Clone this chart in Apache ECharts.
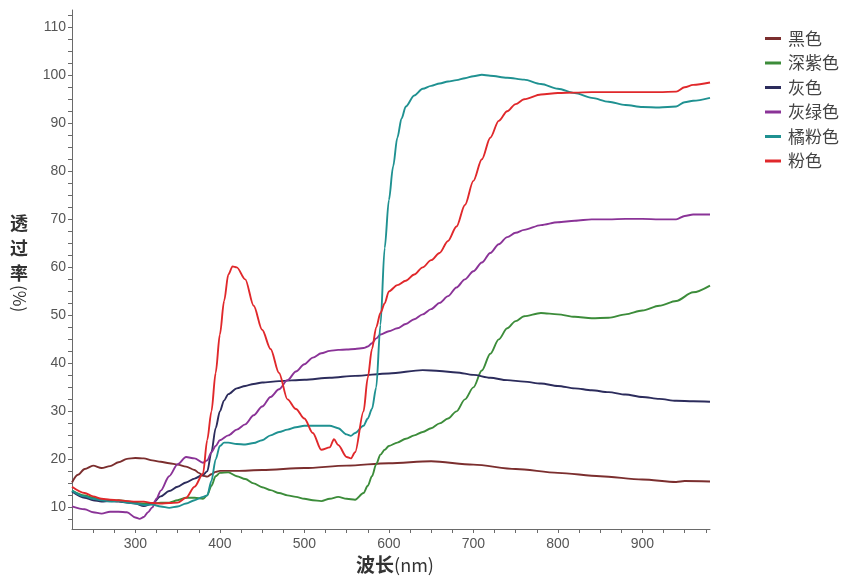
<!DOCTYPE html>
<html><head><meta charset="utf-8">
<script src="https://cdn.jsdelivr.net/npm/echarts@6/dist/echarts.min.js"></script>
<style>html,body{margin:0;padding:0;background:#fff}#c{width:860px;height:576px}</style>
</head><body><div id="c"></div>
<script>
// 黑色
const blackWl = [225,232,240,250,260,270,280,290,300,310,320,330,340,350,360,370,375,380,385,390,395,400,420,450,500,550,600,650,700,750,800,850,900,940,950,980];
const blackT  = [15.2,16.8,18,18.7,18.2,18.6,19.4,20.1,20.3,20.2,19.8,19.5,19.2,18.9,18.5,17.8,17.2,16.6,16.4,16.9,17.4,17.6,17.6,17.8,18.2,18.7,19.2,19.6,18.9,18.0,17.2,16.5,15.8,15.3,15.5,15.4];
// 深紫色
const darkPurpleWl = [225,240,250,260,270,280,290,300,310,320,330,340,350,360,370,380,385,390,395,400,410,420,430,440,450,460,470,480,490,500,510,520,530,540,550,560,570,575,580,585,590,595,600,610,620,630,640,650,660,670,680,690,700,710,720,730,740,750,760,780,800,820,840,860,880,900,920,940,960,980];
const darkPurpleT  = [13.5,12.5,12,11.5,11.3,11.5,11.3,11,10.8,10.8,11,11,11.5,12,12,11.8,12.5,14.5,16.5,17.2,17.3,16.5,15.9,15,14.2,13.6,13,12.5,12.2,11.8,11.5,11.3,11.8,12.2,11.8,11.6,13,14.5,16.5,19,21,22,22.8,23.5,24.3,25,25.7,26.5,27.5,28.5,30,32.5,35,38.5,42,45,47.3,48.8,49.8,50.5,50.2,49.7,49.4,49.5,50.2,51,52,53,54.8,56.2];
// 灰色
const grayWl = [225,240,250,260,270,280,290,300,310,320,330,340,350,360,370,380,385,390,395,400,405,410,420,430,440,450,470,500,530,560,600,640,660,680,700,720,740,760,780,800,820,840,860,880,900,920,940,960,980];
const grayT  = [13.3,12,11.5,11.2,11.3,11.2,11,10.8,10.3,10.8,12.3,13.4,14.3,15.2,16,16.8,17.5,21.5,26.5,30,32.3,33.6,34.8,35.3,35.7,36,36.3,36.6,37,37.4,37.9,38.6,38.4,38.1,37.6,37,36.5,36.2,35.8,35.3,34.8,34.4,34,33.5,33,32.6,32.2,32.1,32];
// 灰绿色
const grayGreenWl = [225,240,250,260,270,280,290,300,305,310,315,320,325,330,340,350,360,370,380,385,390,395,400,410,420,430,440,450,460,470,480,490,500,510,520,530,540,550,560,570,575,580,585,590,600,610,620,630,640,650,660,670,680,690,700,710,720,730,740,750,760,780,800,820,840,860,880,900,920,940,950,960,980];
const grayGreenT  = [10.2,9.6,9,8.7,9.1,9.1,9,7.9,7.6,8,9,10,11.8,13.5,16.5,19,20.5,20.2,19.3,19.8,21.5,22.8,24,25,26.2,27.3,29.2,31,33,34.6,36.5,38.3,39.8,41.2,42.1,42.6,42.8,42.9,43,43.2,43.5,44.2,45.2,46,46.7,47.3,48.2,49.2,50.2,51.3,52.6,54,55.8,57.5,59.2,61,63,64.8,66.3,67.2,67.8,68.8,69.4,69.7,70,70,70.1,70.1,70,70,70.7,71,71];
// 橘粉色
const orangePinkWl = [225,240,250,260,270,280,290,300,310,320,330,340,350,360,370,380,385,390,395,400,405,410,420,430,440,450,460,470,480,490,500,510,520,530,540,550,555,560,570,575,580,585,590,595,600,605,610,615,620,630,640,650,660,670,680,690,700,710,720,740,760,780,800,820,840,860,880,900,920,940,950,960,980];
const orangePinkT  = [13.5,12.3,11.8,11.5,11.2,11.3,11,10.8,10.5,10.6,10.2,9.9,10.2,10.8,11.5,12.2,12.5,15.5,20,22.8,23.5,23.5,23.2,23.1,23.4,24,25,25.7,26.2,26.7,27,27,27,27,26.5,25.2,24.9,25.5,27,28.5,30.5,35,48,64,74,81,87,91,93.5,95.8,97.2,97.8,98.3,98.7,99,99.4,99.8,100.1,99.9,99.5,99.1,98.2,97.2,96.3,95.3,94.5,93.8,93.4,93.3,93.5,94.4,94.7,95.3];
// 粉色
const pinkWl = [225,240,250,260,270,280,290,300,310,320,330,340,350,360,370,380,385,390,395,400,405,410,415,420,430,440,450,460,470,480,490,500,510,520,530,535,540,550,555,560,570,575,580,585,590,595,600,610,620,630,640,650,660,670,680,690,700,710,720,730,740,750,760,780,800,820,840,860,880,900,920,940,950,960,980];
const pinkT  = [14.3,13,12.3,11.8,11.6,11.5,11.3,11.2,11.2,10.9,10.8,10.9,11,12,14.3,17,24,30,38,46,53,58.5,60.2,60,57.5,52,47,43,38,32.5,30.5,28.5,25.5,22,22.5,24.2,23,20.5,20.2,21.5,30,37,43,47.5,50.5,52.5,55,56.3,57.2,58.5,60,61.5,63,65.5,68.5,73,78,82.5,87,90.5,92.5,94,95,96,96.3,96.4,96.5,96.5,96.5,96.5,96.5,96.6,97.5,98,98.5];

const seriesNames = ['黑色','深紫色','灰色','灰绿色','橘粉色','粉色'];
const seriesColors = ['#7b2e2e','#3c8c3a','#2c2c5c','#8a3397','#1f9191','#e0282b'];
const seriesWl = [blackWl, darkPurpleWl, grayWl, grayGreenWl, orangePinkWl, pinkWl];
const seriesT  = [blackT, darkPurpleT, grayT, grayGreenT, orangePinkT, pinkT];

const xLabelValues = [300,400,500,600,700,800,900];
const yLabelValues = [10,20,30,40,50,60,70,80,90,100,110];
const xTickValues = []; for (let v = 250; v <= 975; v += 25) xTickValues.push(v);
const yTickValues = []; for (let v = 7.5; v <= 112.5; v += 2.5) yTickValues.push(v);

const chart = echarts.init(document.getElementById('c'));
const axisColor = '#6a6a6a';
const labelFont = "'Liberation Sans Narrow','Arial Narrow','Liberation Sans',Arial,sans-serif";
chart.setOption({
  animation: false,
  backgroundColor: '#fff',
  grid: { left: 72, right: 150, top: 10, bottom: 47 },
  legend: {
    orient: 'vertical', left: 760, top: 25,
    icon: 'rect', itemWidth: 16, itemHeight: 3, itemGap: 7.5,
    textStyle: { fontFamily: "'Noto Sans CJK SC'", fontSize: 17, color: '#444', lineHeight: 17, padding: [0,0,0,2] },
    data: seriesNames
  },
  xAxis: {
    type: 'value', min: 225, max: 980,
    axisLine: { show: true, lineStyle: { color: axisColor, width: 1 } },
    axisTick: { show: true, length: 4, inside: false, customValues: xTickValues, lineStyle: { color: axisColor } },
    axisLabel: { customValues: xLabelValues, color: '#555', fontSize: 14, fontFamily: labelFont, margin: 8 },
    splitLine: { show: false }
  },
  yAxis: {
    type: 'value', min: 5.5, max: 113.6,
    axisLine: { show: true, lineStyle: { color: axisColor, width: 1 } },
    axisTick: { show: true, length: 4, inside: false, customValues: yTickValues, lineStyle: { color: axisColor } },
    axisLabel: { customValues: yLabelValues, color: '#555', fontSize: 14, fontFamily: labelFont, margin: 6 },
    splitLine: { show: false }
  },
  graphic: [
    { type: 'text', left: 10, top: 211, style: { text: '透\n过\n率', fontFamily: "'Noto Sans CJK SC'", fontSize: 18, fontWeight: 'bold', lineHeight: 25, fill: '#333' } },
    { type: 'text', x: 11, y: 285, rotation: -Math.PI/2, style: { text: '(%)', fontFamily: "'Noto Sans CJK SC'", fontSize: 17, fill: '#333', verticalAlign: 'bottom' } },
    { type: 'text', x: 395, y: 565, style: { text: '{b|波长}{n|(nm)}', align: 'center', verticalAlign: 'middle',
        rich: { b: { fontFamily: "'Noto Sans CJK SC'", fontSize: 19, fontWeight: 'bold', fill: '#333' },
                n: { fontFamily: "'Noto Sans CJK SC'", fontSize: 18, fill: '#333' } } } }
  ],
  series: seriesNames.map((name, i) => ({
    name, type: 'line', showSymbol: false, smooth: 0.3, smoothMonotone: 'x',
    lineStyle: { width: 1.9, color: seriesColors[i] }, itemStyle: { color: seriesColors[i] },
    data: seriesWl[i].map((w, j) => [w, seriesT[i][j]])
  }))
});
</script></body></html>
